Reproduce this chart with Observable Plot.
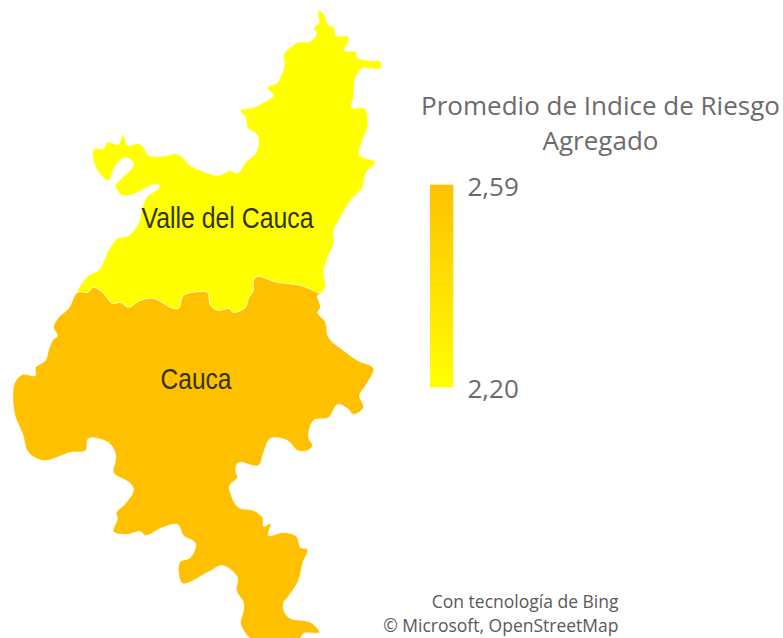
<!DOCTYPE html>
<html><head><meta charset="utf-8">
<script src="https://cdn.jsdelivr.net/npm/d3@7"></script>
<script src="https://cdn.jsdelivr.net/npm/@observablehq/plot@0.6"></script>
<style>
html,body{margin:0;padding:0;background:#fff;overflow:hidden}
#chart{position:relative;width:783px;height:638px}
#chart svg{position:absolute;background:transparent}
</style></head><body><div id="chart"></div>
<script>
// Department values
const departments = ["Valle del Cauca", "Cauca"];
const riskValues = [2.20, 2.59];
const legendTicks = [2.20, 2.59];
const legendTitle = ["Promedio de Indice de Riesgo", "Agregado"];
const credits = ["Con tecnología de Bing", "© Microsoft, OpenStreetMap"];

// Outlines, in map units
const sharedBorder = [[77,292],[87,292],[93,287],[102,292],[112,303],[120,302],[128,307],[140,300],[153,298],[170,307],[178,308],[183,295],[202,291],[207,292],[210,305],[218,310],[228,308],[233,312],[245,307],[248,298],[253,290],[253,280],[257,276],[277,282],[300,285],[320,293]];
const valleRest = [[325,285],[323,273],[327,257],[333,243],[333,230],[337,222],[350,200],[362,187],[365,173],[375,162],[373,160],[359,155],[362,140],[367,127],[367,117],[364,108],[351,107],[353,97],[355,77],[362,68],[380,68],[380,61],[368,60],[357,57],[355,51],[344,50],[348,40],[347,36],[335,35],[334,28],[327,23],[323,13],[318,10],[318,23],[313,28],[316,32],[310,41],[297,42],[290,47],[283,54],[284,63],[277,82],[267,87],[273,95],[263,102],[253,107],[240,110],[245,117],[247,127],[257,135],[258,143],[255,153],[245,162],[237,173],[230,170],[218,175],[200,170],[187,163],[183,158],[175,153],[167,155],[148,155],[143,147],[138,143],[127,145],[124,137],[122,135],[118,144],[113,143],[107,142],[103,148],[93,149],[93,160],[97,170],[108,180],[115,165],[125,157],[133,162],[132,167],[122,177],[115,185],[122,195],[135,193],[150,185],[158,184],[158,188],[148,195],[143,203],[138,223],[128,235],[117,238],[108,250],[98,270],[88,275],[77,290]];
const caucaRest = [[322,293],[317,295],[320,307],[317,312],[325,322],[328,337],[343,350],[357,360],[373,368],[365,385],[359,395],[363,407],[353,414],[347,408],[337,404],[328,417],[313,420],[308,437],[312,445],[307,450],[297,450],[287,440],[270,438],[263,452],[258,465],[238,462],[235,470],[237,477],[229,485],[230,493],[238,507],[253,510],[262,517],[263,526],[270,523],[268,535],[283,532],[296,536],[300,547],[307,549],[302,563],[298,580],[287,597],[283,602],[284,612],[290,618],[310,622],[319,632],[303,633],[298,640],[253,640],[242,628],[240,622],[243,610],[243,602],[236,590],[237,577],[222,565],[207,572],[182,583],[179,562],[190,557],[195,543],[183,535],[177,524],[162,527],[145,535],[140,531],[125,534],[113,531],[117,518],[116,512],[125,503],[133,490],[130,483],[113,472],[115,460],[115,453],[108,442],[88,438],[85,450],[70,452],[43,460],[28,452],[22,433],[14,413],[14,383],[22,374],[35,375],[35,367],[45,360],[48,350],[52,340],[57,335],[53,327],[58,317],[68,308]];

const outlines = [[...sharedBorder, ...valleRest], [...sharedBorder, ...caucaRest]];
const mapRows = departments.flatMap((name, i) => outlines[i].map(([x, y]) => ({name, value: riskValues[i], x, y})));
const mapLabels = [{name: departments[0], x: 227, y: 218}, {name: departments[1], x: 195.5, y: 379}];
const labelWidths = [172, 71];
const titleRows = legendTitle.map((t, i) => ({t, x: 600, y: [106, 141][i]}));
const creditRows = credits.map((t, i) => ({t, x: 618, y: [602, 626][i]}));
const colorRange = ["#ffff00", "#ffc000"];

const map = Plot.plot({
  width: 783, height: 638, margin: 0,
  x: {domain: [0, 783], range: [0, 783], axis: null},
  y: {domain: [0, 638], range: [0, 638], axis: null},
  color: {type: "linear", domain: [2.20, 2.59], range: colorRange},
  style: {background: "transparent"},
  marks: [
    Plot.line(mapRows, {x: "x", y: "y", z: "name", fill: "value", stroke: "#fff", strokeWidth: 0.8, strokeOpacity: 0.7, curve: "catmull-rom-closed"}),
    Plot.text(mapLabels, {x: "x", y: "y", text: "name", fill: "#333300", fontSize: 30, fontFamily: "Liberation Sans, sans-serif", className: "maplabel"}),
    Plot.text(titleRows, {x: "x", y: "y", text: "t", fill: "#6b6b6b", fontSize: 26, fontFamily: "Open Sans, sans-serif"}),
    Plot.text(creditRows, {x: "x", y: "y", text: "t", textAnchor: "end", fill: "#595959", fontSize: 17.5, fontFamily: "Open Sans, sans-serif"})
  ]
});
map.querySelectorAll(".maplabel text").forEach((t, i) => {
  t.setAttribute("textLength", labelWidths[i]);
  t.setAttribute("lengthAdjust", "spacingAndGlyphs");
});

// Legend: a ramp on its own value scale
const rampStops = d3.quantize(d3.interpolateNumber(legendTicks[0], legendTicks[1]), 61);
const ramp = d3.pairs(rampStops).map(([y1, y2]) => ({y1, y2}));
const legend = Plot.plot({
  width: 150, height: 242, marginTop: 20, marginBottom: 20, marginLeft: 0, marginRight: 127,
  x: {domain: [0, 1], axis: null},
  y: {domain: legendTicks, axis: null},
  color: {type: "linear", domain: legendTicks, range: colorRange},
  style: {background: "transparent"},
  marks: [
    Plot.rectY(ramp, {x1: 0, x2: 1, y1: "y1", y2: "y2", fill: "y1", stroke: "y1", strokeWidth: 0.6}),
    Plot.axisY({anchor: "right", ticks: legendTicks, tickSize: 0, tickPadding: 14, dy: 2, line: false, label: null,
      tickFormat: d => d.toFixed(2).replace(".", ","), fontSize: 26, fill: "#6b6b6b", fontFamily: "Open Sans, sans-serif"})
  ]
});
legend.style.left = "430px";
legend.style.top = "165px";
const root = document.getElementById("chart");
root.append(map, legend);
</script></body></html>
